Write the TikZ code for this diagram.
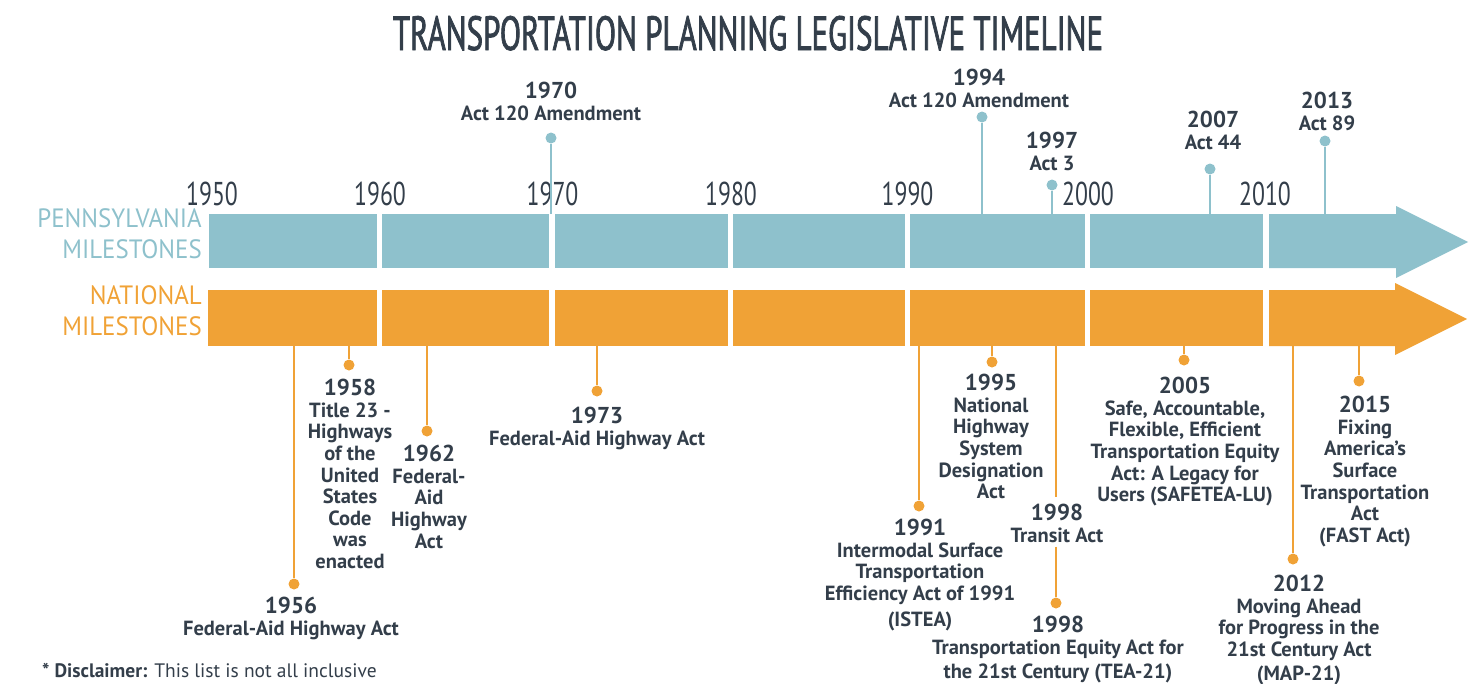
\documentclass[tikz,border=0pt]{standalone}
\usepackage{fontspec}
\setmainfont{PT Sans}
\newfontfamily\titlefont[FakeStretch=0.645,FakeBold=1.5]{PT Sans}
\newfontfamily\decfont[FakeStretch=0.72]{PT Sans}
\newfontfamily\sidefont[FakeStretch=0.94]{PT Sans}
\definecolor{pablue}{HTML}{8EC1CC}
\definecolor{natorange}{HTML}{F0A236}
\definecolor{txt}{HTML}{333E4A}
\newcommand\yr[1]{{\fontsize{23}{21.6}\selectfont #1}}
\tikzset{
  pabar/.style={fill=pablue},
  natbar/.style={fill=natorange},
  dotb/.style={circle,fill=pablue,inner sep=0,minimum size=11pt},
  doto/.style={circle,fill=natorange,inner sep=0,minimum size=11pt},
  stemb/.style={draw=pablue,line width=2.6pt},
  stemo/.style={draw=natorange,line width=2.6pt},
  ms/.style={align=center,inner sep=0,text=txt,anchor=north,font=\fontsize{20.5}{21.6}\selectfont\bfseries},
  decade/.style={font=\decfont\fontsize{33}{33}\selectfont,text=txt,inner sep=0,anchor=base},
  side/.style={font=\sidefont\fontsize{26.5}{31}\selectfont,align=right,inner sep=0,anchor=east}
}
\begin{document}
\begin{tikzpicture}[x=1pt,y=-1pt]
\useasboundingbox (0,0) rectangle (1483,683);
% title
\node[font=\titlefont\fontsize{48}{48}\selectfont,text=txt,inner sep=0,anchor=base] (title) at (748,50) {TRANSPORTATION PLANNING LEGISLATIVE TIMELINE};
% side labels
\node[side,text=pablue] (palab) at (202,233.5) {PENNSYLVANIA\\MILESTONES};
\node[side,text=natorange] (natlab) at (202,311) {NATIONAL\\MILESTONES};
% blue bar
\fill[pabar] (209,214) rectangle (377,268);
\fill[pabar] (382,214) rectangle (549,268);
\fill[pabar] (555,214) rectangle (728,268);
\fill[pabar] (733,214) rectangle (905,268);
\fill[pabar] (910,214) rectangle (1085,268);
\fill[pabar] (1090,214) rectangle (1263,268);
\fill[pabar] (1269,214) -- (1396,214) -- (1396,206) -- (1468,242) -- (1396,278) -- (1396,268) -- (1269,268) -- cycle;
% orange bar
\fill[natbar] (208,290) rectangle (377,346);
\fill[natbar] (382,290) rectangle (549,346);
\fill[natbar] (555,290) rectangle (728,346);
\fill[natbar] (733,290) rectangle (905,346);
\fill[natbar] (910,290) rectangle (1085,346);
\fill[natbar] (1090,290) rectangle (1263,346);
\fill[natbar] (1269,290) -- (1395,290) -- (1395,283) -- (1467,319) -- (1395,355) -- (1395,346) -- (1269,346) -- cycle;
% decades
\node[decade] (d1950) at (212,205) {1950};
\node[decade] (d1960) at (380,205) {1960};
\node[decade] (d1970) at (552.5,205) {1970};
\node[decade] (d1980) at (731,205) {1980};
\node[decade] (d1990) at (907.5,205) {1990};
\node[decade] (d2000) at (1088,205) {2000};
\node[decade] (d2010) at (1265,205) {2010};
% Pennsylvania milestones
\coordinate (b1970) at (551,214);
\coordinate (b1994) at (982,214);
\coordinate (b1997) at (1052,214);
\coordinate (b2007) at (1210,214);
\coordinate (b2013) at (1325,214);
\node[dotb] (p1970) at (551,138) {};
\node[dotb] (p1994) at (982,117) {};
\node[dotb] (p1997) at (1052,185) {};
\node[dotb] (p2007) at (1210,169) {};
\node[dotb] (p2013) at (1325,141) {};
\draw[stemb] (b1970) -- (p1970);
\draw[stemb] (b1994) -- (p1994);
\draw[stemb] (b1997) -- (p1997);
\draw[stemb] (b2007) -- (p2007);
\draw[stemb] (b2013) -- (p2013);
\node[ms] (m1970) at (551,82) {\yr{1970}\\Act 120 Amendment};
\node[ms] (m1994) at (979,69) {\yr{1994}\\Act 120 Amendment};
\node[ms] (m1997) at (1052,132) {\yr{1997}\\Act 3};
\node[ms] (m2007) at (1213,111) {\yr{2007}\\Act 44};
\node[ms] (m2013) at (1327,92) {\yr{2013}\\Act 89};
% National milestones
\coordinate (c1956) at (294,346);
\coordinate (c1958) at (349,346);
\coordinate (c1962) at (427,346);
\coordinate (c1973) at (597,346);
\coordinate (c1991) at (919,346);
\coordinate (c1995) at (992,346);
\coordinate (c1998) at (1056,346);
\coordinate (c2005) at (1184,346);
\coordinate (c2012) at (1293,346);
\coordinate (c2015) at (1359,346);
\node[doto] (n1956) at (294,584) {};
\node[doto] (n1958) at (349,365) {};
\node[doto] (n1962) at (427,431) {};
\node[doto] (n1973) at (597,391) {};
\node[doto] (n1991) at (919,506) {};
\node[doto] (n1995) at (992,362) {};
\node[doto] (n1998) at (1056,603) {};
\node[doto] (n2005) at (1184,360) {};
\node[doto] (n2012) at (1293,559) {};
\node[doto] (n2015) at (1359,381) {};
\node[ms] (m1956) at (291,597) {\yr{1956}\\Federal-Aid Highway Act};
\node[ms] (m1958) at (350,379) {\yr{1958}\\Title 23 -\\Highways\\of the\\United\\States\\Code\\was\\enacted};
\node[ms] (m1962) at (429,445) {\yr{1962}\\Federal-\\Aid\\Highway\\Act};
\node[ms] (m1973) at (597,407) {\yr{1973}\\Federal-Aid Highway Act};
\node[ms] (m1991) at (920,519) {\yr{1991}\\Intermodal Surface\\Transportation\\Efficiency Act of 1991\\[4pt](ISTEA)};
\node[ms] (m1995) at (991,374) {\yr{1995}\\National\\Highway\\System\\Designation\\Act};
\node[ms] (m1998a) at (1057,504) {\yr{1998}\\Transit Act};
\node[ms] (m1998b) at (1058,616) {\yr{1998}\\Transportation Equity Act for\\[3pt]the 21st Century (TEA-21)};
\node[ms] (m2005) at (1185,377) {\yr{2005}\\Safe, Accountable,\\Flexible, Efficient\\Transportation Equity\\Act: A Legacy for\\Users (SAFETEA-LU)};
\node[ms] (m2012) at (1299,575) {\yr{2012}\\Moving Ahead\\for Progress in the\\21st Century Act\\[2pt](MAP-21)};
\node[ms] (m2015) at (1365,396) {\yr{2015}\\Fixing\\America’s\\Surface\\Transportation\\Act\\(FAST Act)};
\draw[stemo] (c1956) -- (n1956);
\draw[stemo] (c1958) -- (n1958);
\draw[stemo] (c1962) -- (n1962);
\draw[stemo] (c1973) -- (n1973);
\draw[stemo] (c1991) -- (n1991);
\draw[stemo] (c1995) -- (n1995);
\draw[stemo] (c1998) -- ([yshift=7pt]m1998a.north -| c1998);
\draw[stemo] ([yshift=-4pt]m1998a.south -| c1998) -- (n1998);
\draw[stemo] (c2005) -- (n2005);
\draw[stemo] (c2012) -- (n2012);
\draw[stemo] (c2015) -- (n2015);
% disclaimer
\node[inner sep=0,anchor=west,text=txt,font=\fontsize{19.5}{19.5}\selectfont] (disc) at (42,670) {\textbf{* Disclaimer:} This list is not all inclusive};
\end{tikzpicture}
\end{document}
